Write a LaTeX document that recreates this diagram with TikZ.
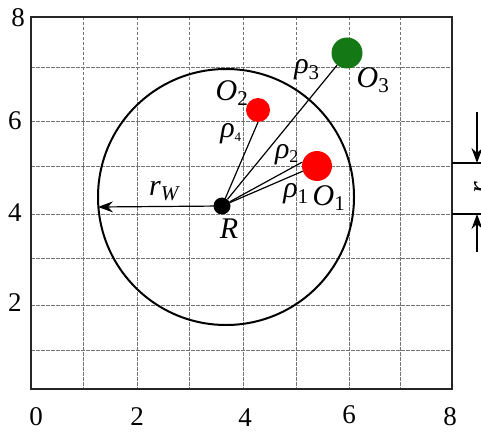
\documentclass[tikz,border=0pt]{standalone}
\usepackage{fontspec}
\setmainfont{Liberation Serif}
\usetikzlibrary{arrows.meta}
\definecolor{dgreen}{RGB}{20,120,20}
\begin{document}
\begin{tikzpicture}[x=1pt,y=-1pt,
  gridline/.style={black!55, line width=1pt, dash pattern=on 3.5pt off 1.5pt},
  frame/.style={black!85, line width=2.5pt},
  ray/.style={black, line width=1.2pt},
  ball/.style={circle, inner sep=0pt, draw=none},
  tick/.style={font=\fontsize{27}{27}\selectfont, inner sep=0pt},
  lbl/.style={font=\fontsize{30}{30}\selectfont\itshape, inner sep=0pt},
  arr/.style={black, line width=1.2pt, -{Stealth[length=15pt,width=11pt,inset=5pt]}}]
\useasboundingbox (0,0) rectangle (481,433);
% grid
\foreach \x in {83,137,189,243,296,349,400} \draw[gridline] (\x,17) -- (\x,389);
\foreach \y in {68,121,166,214,258,305,350} \draw[gridline] (31,\y) -- (452,\y);
\draw[frame] (31,17) rectangle (452,389);
% tick labels
\node[tick] (y8) at (18,18) {8};
\node[tick] (y6) at (15,121) {6};
\node[tick] (y4) at (15,213) {4};
\node[tick] (y2) at (15,303) {2};
\node[tick] (x0) at (36,417) {0};
\node[tick] (x2) at (137,417) {2};
\node[tick] (x4) at (245,418) {4};
\node[tick] (x6) at (349,415) {6};
\node[tick] (x8) at (450,417) {8};
% workspace circle
\node[circle, draw, line width=2pt, minimum size=256pt, inner sep=0pt] (W) at (226,197) {};
% robot and obstacles
\node[ball, fill=black, minimum size=17pt] (R) at (222,206) {};
\node[ball, fill=red, minimum size=30pt] (O1) at (317,166) {};
\node[ball, fill=red, minimum size=24pt] (O2) at (258,110) {};
\node[ball, fill=dgreen, minimum size=31pt] (O3) at (347,53) {};
\coordinate (rw) at (98,207);
% rays
\draw[ray] (R) -- (O2.south);
\draw[ray] (R) -- (O3);
\draw[ray] (R) -- (O1.165);
\draw[ray] (R) -- (O1.200);
\draw[arr] (R.center) -- (rw);
% labels
\node[lbl] (lrw) at (164,191) {r\textsubscript{\fontsize{21}{21}\selectfont\itshape W}};
\node[lbl] (lR) at (229,229) {R};
\node[lbl] (lO3) at (373,80) {O\textsubscript{\fontsize{21}{21}\selectfont\upshape 3}};
\node[lbl] (lp3) at (307,70) {ρ\textsubscript{\fontsize{21}{21}\selectfont\upshape 3}};
\node[lbl] (lO2) at (232,93) {O\textsubscript{\fontsize{21}{21}\selectfont\upshape 2}};
\node[lbl] (lp4) at (231,134) {ρ\textsubscript{\fontsize{13}{13}\selectfont\upshape 4}};
\node[lbl] (lp2) at (287,155) {ρ\textsubscript{\fontsize{18}{18}\selectfont\upshape 2}};
\node[lbl] (lp1) at (296,194) {ρ\textsubscript{\fontsize{21}{21}\selectfont\upshape 1}};
\node[lbl] (lO1) at (329,198) {O\textsubscript{\fontsize{21}{21}\selectfont\upshape 1}};
% right-side dimension
\coordinate (d1) at (452,163);
\coordinate (d1e) at (481,163);
\coordinate (d2) at (452,214);
\coordinate (d2e) at (481,214);
\draw[ray] (d1) -- (d1e);
\draw[ray] (d2) -- (d2e);
\coordinate (a1s) at (477,112);
\coordinate (a1e) at (477,163);
\coordinate (a2s) at (477,252);
\coordinate (a2e) at (477,214);
\draw[arr] (a1s) -- (a1e);
\draw[arr] (a2s) -- (a2e);
\node[lbl, rotate=90] (dl) at (481,188) {r};
\end{tikzpicture}
\end{document}
